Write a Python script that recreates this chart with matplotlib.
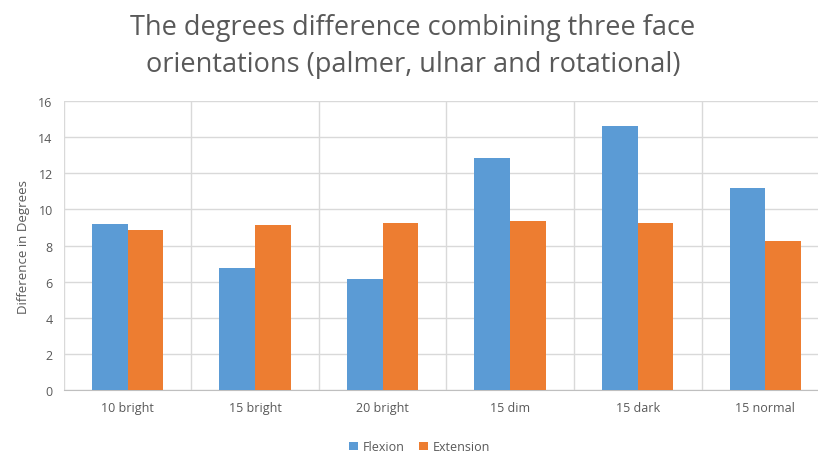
import numpy as np
import matplotlib.pyplot as plt

# Values
categorias = ['10 bright', '15 bright', '20 bright', '15 dim', '15 dark', '15 normal']
flexion = [9.2, 6.75, 6.15, 12.85, 14.6, 11.2]
extension = [8.85, 9.15, 9.25, 9.35, 9.25, 8.25]

plt.rcParams['font.family'] = ['Open Sans', 'DejaVu Sans']
cor_texto = '#595959'
cor_grade = '#d9d9d9'

fig = plt.figure(figsize=(8.18, 4.56), dpi=100)
ax = fig.add_axes([0.078, 0.1425, 0.9355, 0.6335])

x = np.arange(len(categorias))
largura = 0.28
ax.bar(x - largura / 2, flexion, largura, color='#5B9BD5', label='Flexion', zorder=3)
ax.bar(x + largura / 2, extension, largura, color='#ED7D31', label='Extension', zorder=3)

ax.set_xlim(-0.5, len(categorias) - 0.5)
ax.set_ylim(0, 16)
ax.set_yticks(range(0, 17, 2))
ax.set_xticks(x)
ax.set_xticklabels(categorias)
ax.set_xticks(np.arange(-0.5, len(categorias), 1), minor=True)

ax.grid(axis='y', which='major', color=cor_grade, linewidth=1, zorder=0)
ax.grid(axis='x', which='minor', color=cor_grade, linewidth=1, zorder=0)
ax.tick_params(which='both', length=0)
ax.tick_params(axis='both', labelsize=9, colors=cor_texto, pad=8)
for lado in ['top', 'right', 'left']:
    ax.spines[lado].set_visible(False)
ax.spines['bottom'].set_color('#bfbfbf')

ax.set_ylabel('Difference in Degrees', fontsize=9.5, color=cor_texto, labelpad=6)

fig.text(0.505, 0.898, 'The degrees difference combining three face\norientations (palmer, ulnar and rotational)',
         ha='center', va='center', fontsize=19.5, color=cor_texto, linespacing=1.45)

ax.legend(loc='upper center', bbox_to_anchor=(0.465, -0.135),
          ncol=2, frameon=False, fontsize=9, labelcolor=cor_texto,
          handlelength=0.7, handleheight=0.7, handletextpad=0.4, columnspacing=1.2)

fig.savefig('out.png', dpi=100)
